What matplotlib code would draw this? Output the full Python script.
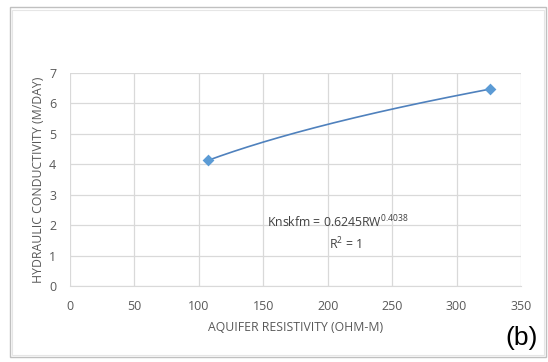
import numpy as np
import matplotlib
matplotlib.use("Agg")
import matplotlib.pyplot as plt
from matplotlib.patches import Rectangle

# Measured points
resistivity = [107, 326]          # ohm-m
conductivity = [4.12, 6.46]       # m/day

# Power-law trend coefficients (K = a * RW^b)
coef_a = 0.6245
coef_b = 0.4038

x_ticks = [0, 50, 100, 150, 200, 250, 300, 350]
y_ticks = [0, 1, 2, 3, 4, 5, 6, 7]

plt.rcParams['font.family'] = ['Open Sans', 'DejaVu Sans']

fig = plt.figure(figsize=(5.48, 3.62), dpi=100)
fig.patch.set_facecolor('white')

# chart-area frame
frame = Rectangle((10 / 548, 1 - 357 / 362), (546 - 10) / 548, (357 - 7) / 362,
                  transform=fig.transFigure, fill=False, edgecolor='#c0c0c0',
                  linewidth=1.0)
fig.patches.append(frame)
inner = Rectangle((12 / 548, 1 - 355 / 362), (544 - 12) / 548, (355 - 10) / 362,
                  transform=fig.transFigure, fill=False, edgecolor='#e6e6e6',
                  linewidth=0.8)
fig.patches.append(inner)

ax = fig.add_axes([70 / 548, 1 - 286 / 362, (521 - 70) / 548, (286 - 72.7) / 362])

ax.set_xlim(0, 350)
ax.set_ylim(0, 7)
ax.set_xticks(x_ticks)
ax.set_yticks(y_ticks)
ax.grid(True, color='#d9d9d9', linewidth=0.9)
ax.set_axisbelow(True)
for side in ['top', 'right', 'left']:
    ax.spines[side].set_visible(False)
ax.spines['bottom'].set_color('#d9d9d9')
ax.tick_params(length=0, colors='#595959', labelsize=9)
ax.tick_params(axis='x', pad=10)
ax.tick_params(axis='y', pad=10)

# trend line between the measured extremes
xs = np.linspace(resistivity[0], resistivity[-1], 200)
ax.plot(xs, coef_a * xs ** coef_b, color='#4f81bd', linewidth=1.2, zorder=3)

ax.scatter(resistivity, conductivity, marker='D', s=36, color='#5b9bd5',
           zorder=4, linewidths=0)

ax.set_xlabel('AQUIFER RESISTIVITY (OHM-M)', color='#595959', fontsize=8.8, labelpad=6)
ax.set_ylabel('HYDRAULIC CONDUCTIVITY (M/DAY)', color='#595959', fontsize=8.8, labelpad=3)

ax.text(153, 2.1, r'Knskfm = %sRW$^{\mathregular{%s}}$' % (coef_a, coef_b),
        color='#404040', fontsize=8.8, ha='left', va='center')
ax.text(201, 1.37, r'R$^{\mathregular{2}}$ = 1', color='#404040', fontsize=8.8,
        ha='left', va='center')

fig.text(522 / 548, 1 - 338 / 362, '(b)', fontsize=19, color='black',
         ha='center', va='center', family=['Liberation Sans', 'DejaVu Sans'])

fig.savefig('out.png', dpi=100)
